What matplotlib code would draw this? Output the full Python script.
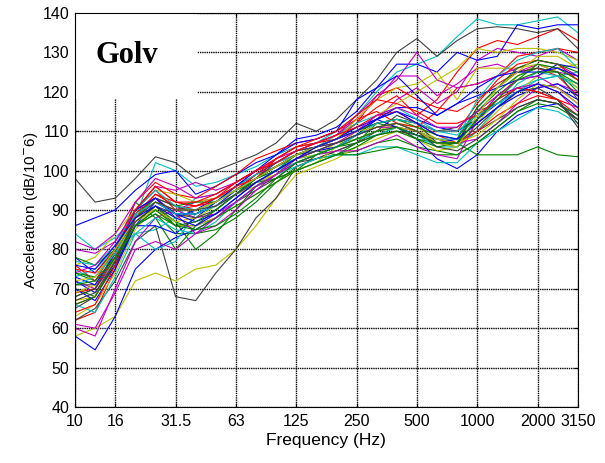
import matplotlib
matplotlib.use("Agg")
import matplotlib.pyplot as plt
from matplotlib.patches import Rectangle

# third-octave bands, 10 Hz .. 3150 Hz
bands = [10, 12.5, 16, 20, 25, 31.5, 40, 50, 63, 80, 100, 125, 160, 200,
         250, 315, 400, 500, 630, 800, 1000, 1250, 1600, 2000, 2500, 3150]
tick_bands = ['10', '16', '31.5', '63', '125', '250', '500', '1000', '2000', '3150']

# measured acceleration levels per position (dB re 1e-6 m/s2)
levels = [
    [78, 74, 80, 90, 93, 88, 90, 93, 95, 99, 102, 105, 106, 108, 111, 113, 115, 113, 111, 110, 113, 117, 120, 122, 121, 118],
    [70, 68, 76, 86, 89, 84, 84, 85, 88, 92, 97, 101, 103, 104, 105, 107, 108, 106, 105, 104, 107, 111, 115, 117, 116, 113],
    [66, 68, 78, 90, 96, 92, 91, 92, 96, 99, 103, 106, 107, 109, 112, 116, 119, 114, 118, 125, 131, 133, 132, 134, 136, 133],
    [84, 80, 83, 88, 102, 100, 96, 97, 99, 101, 104, 106, 107, 110, 114, 120, 125, 127, 129, 134, 138.5, 137, 137, 138, 139, 135],
    [72, 70, 77, 88, 92, 90, 92, 93, 96, 100, 102, 104, 106, 108, 110, 113, 118, 121, 117, 120, 128, 131, 130, 129, 131, 128],
    [58, 60, 63, 72, 74, 72, 75, 76, 80, 86, 93, 99, 101, 103, 106, 108, 110, 108, 105, 106, 112, 118, 124, 127, 126, 123],
    [98, 92, 93, 98, 103.5, 102, 98, 100, 102, 104, 107, 112, 110, 113, 118, 123, 130, 133.5, 129, 133, 136, 136.5, 136, 135, 136, 131],
    [86, 88, 90, 95, 99, 100, 94, 96, 99, 102, 104, 108, 109, 111, 115, 121, 127, 127, 125, 130, 128, 129, 137, 136, 137, 137],
    [74, 72, 78, 86, 90, 87, 80, 84, 90, 96, 98, 100, 104, 106, 107, 112, 111, 110, 108, 107, 115, 120, 124, 126, 125, 120],
    [62, 64, 75, 88, 94, 91, 90, 92, 95, 99, 101, 104, 106, 108, 112, 119, 121, 118, 116, 115, 118, 122, 125, 126, 124, 119],
    [75, 72, 77, 84, 85, 88, 93, 94, 97, 100, 102, 104, 106, 109, 112, 114, 116, 113, 110, 109, 113, 118, 121, 123, 124, 125],
    [80, 79, 82, 90, 96, 95, 97, 95, 97, 100, 102, 105, 107, 109, 113, 118, 124, 124, 119, 122, 126, 127, 125, 127, 125, 124],
    [63, 66, 74, 85, 91, 88, 89, 91, 94, 96, 100, 102, 104, 107, 108, 110, 112, 111, 108, 107, 110, 115, 120, 124, 126, 127],
    [62, 65, 72, 82, 86, 68, 67, 74, 80, 88, 93, 101, 103, 105, 107, 110, 114, 112, 107, 106, 110, 113, 116, 118, 117, 113],
    [58, 54.5, 63, 75, 80, 83, 85, 88, 92, 96, 99, 102, 104, 106, 108, 110, 111, 108, 103, 100.5, 104, 110, 114, 116, 117, 114],
    [68, 70, 80, 92, 88, 80, 86, 90, 94, 98, 101, 104, 105, 104, 106, 109, 111, 108, 107, 107, 104, 104, 104, 106, 104, 103.5],
    [76, 72, 80, 92, 97, 94, 93, 96, 99, 103, 105, 107, 108, 110, 113, 115, 112, 111, 115, 121, 122, 124, 129, 130, 131, 130],
    [73, 75, 80, 84, 80, 82, 89, 92, 96, 99, 101, 103, 104, 106, 108, 109, 111, 109, 106, 106, 110, 116, 122, 125, 124, 121],
    [60, 58, 70, 82, 88, 90, 88, 89, 92, 96, 99, 103, 106, 107, 109, 111, 111, 110, 108, 107, 108, 112, 117, 121, 122, 120],
    [76, 78, 84, 90, 95, 94, 92, 93, 95, 98, 101, 104, 106, 108, 113, 118, 121, 122, 125, 118, 126, 126, 126, 127, 125, 121],
    [65, 68, 77, 87, 91, 86, 86, 88, 92, 95, 98, 102, 103, 105, 107, 109, 110, 109, 108, 107, 116, 121, 125, 126, 125, 118],
    [72, 69, 76, 86, 86, 84, 88, 92, 96, 100, 104, 107, 108, 110, 118, 121, 124, 119, 114, 117, 119, 121, 123, 124, 127, 126],
    [78, 76, 80, 88, 93, 91, 92, 92, 95, 97, 98, 100, 102, 104, 107, 109, 110, 108, 106, 107, 113, 119, 123, 127, 126, 123],
    [69, 70, 79, 90, 95, 90, 91, 93, 96, 98, 103, 106, 107, 108, 110, 112, 113, 112, 109, 107, 110, 114, 117, 119, 118, 114],
    [66, 64, 73, 84, 88, 85, 84, 87, 92, 96, 99, 101, 103, 104, 104, 106, 106, 104, 102, 102, 107, 110, 113, 116, 115, 112],
    [82, 80, 84, 92, 98, 96, 93, 94, 97, 100, 103, 105, 107, 109, 114, 119, 123, 130, 123, 121, 122, 124, 126, 128, 127, 124],
    [67, 68, 78, 88, 90, 86, 86, 88, 91, 94, 97, 100, 102, 106, 110, 114, 117, 120, 123, 126, 131, 130, 131, 131, 130, 128],
    [71, 71, 79, 89, 93, 91, 89, 91, 94, 98, 102, 105, 106, 108, 110, 112, 113, 112, 110, 111, 115, 117, 121, 120, 118, 112],
    [70, 67, 75, 86, 92, 89, 89, 91, 95, 98, 101, 104, 106, 108, 111, 113, 111, 109, 107, 108, 112, 116, 119, 121, 122, 119],
    [74, 73, 80, 87, 91, 87, 85, 88, 91, 94, 97, 100, 102, 104, 104, 105, 106, 105, 104, 104, 107, 111, 115, 118, 117, 114],
    [64, 66, 76, 89, 94, 92, 91, 93, 97, 100, 102, 105, 107, 109, 111, 114, 115, 112, 110, 110, 117, 123, 127, 128, 127, 123],
    [77, 76, 81, 90, 95, 91, 90, 92, 95, 98, 100, 103, 105, 107, 109, 111, 112, 110, 108, 108, 118, 124, 128, 130, 131, 126],
    [74, 76, 82, 90, 93, 89, 84, 86, 90, 95, 99, 102, 104, 105, 105, 107, 109, 106, 104, 103, 113, 119, 123, 124, 121, 117],
    [69, 71, 79, 87, 90, 87, 88, 91, 94, 97, 99, 103, 104, 106, 108, 110, 111, 110, 108, 107, 109, 113, 118, 122, 121, 117],
    [68, 70, 78, 87, 91, 89, 88, 90, 94, 98, 101, 104, 106, 107, 109, 111, 112, 110, 107, 107, 111, 116, 120, 121, 118, 111],
    [73, 71, 79, 90, 93, 89, 87, 89, 93, 97, 100, 103, 105, 106, 109, 113, 116, 116, 114, 117, 121, 124, 125, 125, 126, 124],
    [66, 68, 77, 86, 89, 86, 87, 90, 94, 98, 100, 104, 106, 108, 110, 112, 113, 111, 109, 108, 116, 121, 126, 128, 127, 125],
    [75, 74, 80, 90, 96, 92, 92, 94, 97, 100, 103, 106, 108, 110, 114, 118, 117, 115, 112, 112, 114, 118, 121, 120, 118, 116],
    [71, 73, 79, 89, 92, 89, 89, 91, 94, 97, 100, 102, 104, 106, 109, 112, 113, 112, 110, 110, 114, 117, 120, 123, 124, 122],
    [61, 60, 69, 80, 82, 80, 84, 88, 92, 96, 99, 103, 105, 107, 110, 114, 116, 114, 111, 111, 115, 119, 121, 122, 120, 115],
    [72, 73, 80, 88, 92, 90, 90, 92, 95, 98, 101, 104, 106, 108, 110, 111, 112, 110, 107, 106, 114, 121, 125, 129, 129, 126],
    [67, 69, 77, 88, 92, 90, 90, 91, 94, 97, 100, 103, 105, 107, 109, 111, 112, 110, 106, 105, 108, 112, 116, 118, 117, 113],
    [76, 75, 81, 88, 91, 88, 86, 89, 93, 97, 100, 103, 106, 108, 110, 113, 115, 112, 109, 108, 112, 116, 120, 122, 120, 116],
    [71, 72, 78, 86, 90, 86, 85, 86, 89, 93, 98, 102, 104, 106, 108, 110, 111, 109, 107, 107, 113, 118, 123, 125, 125, 122],
]

# old matlab colour order b g r c m y k
colors = [(0, 0, 1), (0, 0.5, 0), (1, 0, 0), (0, 0.75, 0.75),
          (0.75, 0, 0.75), (0.75, 0.75, 0), (0.25, 0.25, 0.25)]

plt.rcParams['font.family'] = ['Liberation Sans', 'DejaVu Sans']

fig = plt.figure(figsize=(6.05, 4.63), dpi=100)
ax = fig.add_axes([0.124, 0.121, 0.831, 0.851])

x = list(range(len(bands)))
for k, lv in enumerate(levels):
    ax.plot(x, lv, color=colors[k % len(colors)], lw=0.8, zorder=2)

ax.set_xlim(0, len(bands) - 1)
ax.set_ylim(40, 140)
ax.set_xticks([bands.index(float(t)) if '.' in t else bands.index(int(t)) for t in tick_bands])
ax.set_xticklabels(tick_bands)
ax.set_yticks(range(40, 141, 10))
ax.tick_params(axis='both', labelsize=11.5)
ax.tick_params(direction='in', top=True, right=True, length=3, width=0.8)
ax.tick_params(axis='x', pad=5)
ax.tick_params(axis='y', pad=4)
ax.grid(True, color='k', linestyle=(0, (1, 0.6)), linewidth=1.0)
for s in ax.spines.values():
    s.set_linewidth(0.8)

# white box behind the title text
ax.add_patch(Rectangle((0, 118.2), 6.07, 21.7, facecolor='white', edgecolor='none', zorder=1.8))
ax.text(1.0, 129.3, 'Golv', fontsize=22, fontweight='bold', family='Liberation Serif',
        va='center', ha='left', zorder=3)

ax.set_xlabel('Frequency (Hz)', fontsize=12.5, labelpad=3)
ax.set_ylabel('Acceleration (dB/10$^{-}$6)', fontsize=11, labelpad=2)

fig.savefig('out.png', dpi=100)
